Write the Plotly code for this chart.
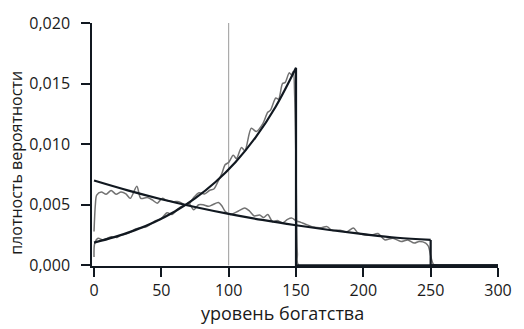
import plotly.graph_objects as go

# Smooth densities: decreasing on [0, 250], increasing on [0, 150]
dec_x = [0, 25, 50, 75, 100, 125, 150, 175, 200, 225, 250]
dec_y = [0.0070, 0.00619, 0.00546, 0.00482, 0.00425, 0.00375, 0.00331,
         0.00292, 0.00258, 0.00228, 0.0021]
dec_tail_x = [250, 250, 300]
dec_tail_y = [0.0021, 0.0, 0.0]

inc_x = [0, 15, 30, 45, 60, 75, 90, 105, 120, 135, 150]
inc_y = [0.00188, 0.00233, 0.00289, 0.00359, 0.00445, 0.00553, 0.00686,
         0.00851, 0.01057, 0.01311, 0.0163]
inc_tail_x = [150, 150, 300]
inc_tail_y = [0.0163, 0.0, 0.0]

# Simulated (noisy) estimates of the same two densities
sim_dec_x = [0, 1, 2, 5.4, 9, 12.7, 16.4, 20, 23.7, 26.9, 31.8, 34.7, 39.6,
             43.3, 47, 50.6, 54.3, 59.2, 62.9, 67.8, 70.4, 74, 77.7, 81, 85,
             88, 92.4, 95, 97.3, 101, 107, 112, 115.6, 119, 123, 126, 129,
             132.7, 136, 140, 143.7, 147, 150, 153.5, 157, 163, 168, 173,
             176.7, 182.6, 187.7, 192.6, 196, 201, 206, 210.9, 215.8, 222,
             228, 233, 237.8, 241.4, 246.3, 248.3, 250, 252, 255, 300]
sim_dec_y = [0.0028, 0.0050, 0.0058, 0.00605, 0.00587, 0.00618, 0.00587,
             0.00605, 0.0059, 0.00553, 0.00653, 0.00553, 0.0056, 0.0054,
             0.00513, 0.00553, 0.00535, 0.00526, 0.00526, 0.0050, 0.00513,
             0.0046, 0.0050, 0.0050, 0.00487, 0.0050, 0.00519, 0.0049,
             0.00447, 0.00421, 0.00447, 0.00474, 0.00447, 0.00408, 0.00415,
             0.00395, 0.0042, 0.0036, 0.0037, 0.0035, 0.0038, 0.0039,
             0.00368, 0.00355, 0.0034, 0.00316, 0.0031, 0.0032, 0.0029,
             0.0029, 0.00276, 0.00308, 0.00268, 0.0025, 0.0025, 0.00263,
             0.00211, 0.00224, 0.00197, 0.0021, 0.00184, 0.00197, 0.00184,
             0.00158, 0.0008, 0.0001, 0.0, 0.0]

sim_inc_x = [0, 0.5, 3, 6.6, 9, 12.7, 17, 20, 24, 27.4, 31, 35, 38.4, 42,
             45.7, 49.4, 54.3, 58, 61.6, 66.4, 70, 74, 78, 82, 86, 89, 92.4,
             95, 97.3, 100, 103.4, 105.8, 109.5, 112, 116.8, 120.5, 125.4,
             129, 131, 135, 137, 140, 142, 145, 146.6, 148, 149, 150, 151,
             152, 300]
sim_inc_y = [0.0007, 0.0018, 0.00224, 0.0021, 0.0022, 0.00237, 0.0023,
             0.0025, 0.0026, 0.00276, 0.0030, 0.0031, 0.00316, 0.0034,
             0.00368, 0.0038, 0.00434, 0.0042, 0.0046, 0.00495, 0.0050,
             0.0056, 0.0060, 0.0059, 0.0062, 0.0063, 0.0070, 0.0076, 0.0083,
             0.0085, 0.00908, 0.00882, 0.00973, 0.00947, 0.01131, 0.01105,
             0.0117, 0.01263, 0.0128, 0.01381, 0.0137, 0.0150, 0.0151,
             0.0159, 0.0157, 0.0160, 0.0140, 0.0083, 0.0010, 0.0, 0.0]

mean_x = 100
x_ticks = [0, 50, 100, 150, 200, 250, 300]
y_ticks = [0.0, 0.005, 0.010, 0.015, 0.020]
y_tick_text = ["0,000", "0,005", "0,010", "0,015", "0,020"]

DARK = "#111820"
GREY = "#727272"
FONT = "Open Sans"

fig = go.Figure()

fig.add_trace(go.Scatter(x=[mean_x, mean_x], y=[0, 0.020], mode="lines",
                         line=dict(color="#9a9a9a", width=1)))

for sx, sy in ((sim_dec_x, sim_dec_y), (sim_inc_x, sim_inc_y)):
    fig.add_trace(go.Scatter(x=sx, y=sy, mode="lines",
                             line=dict(color=GREY, width=1.5, shape="spline",
                                       smoothing=0.8)))

for cx, cy in ((dec_x, dec_y), (inc_x, inc_y)):
    fig.add_trace(go.Scatter(x=cx, y=cy, mode="lines",
                             line=dict(color=DARK, width=2.2, shape="spline")))
for tx, ty in ((dec_tail_x, dec_tail_y), (inc_tail_x, inc_tail_y)):
    fig.add_trace(go.Scatter(x=tx, y=ty, mode="lines",
                             line=dict(color=DARK, width=2.2)))

axis_common = dict(showgrid=False, zeroline=False, showline=True,
                   linecolor=DARK, linewidth=1.5, ticks="outside",
                   tickcolor=DARK, tickwidth=1.5, ticklen=9,
                   tickfont=dict(family=FONT, size=16, color="#1a1a1a"))

fig.update_layout(
    width=524, height=329,
    margin=dict(l=92, r=21, t=12, b=63),
    paper_bgcolor="white", plot_bgcolor="white",
    showlegend=False,
    xaxis=dict(range=[-1.5, 300], tickvals=x_ticks, **axis_common),
    yaxis=dict(range=[-0.00005, 0.020], tickvals=y_ticks,
               ticktext=y_tick_text, ticklabelstandoff=8, **axis_common),
    annotations=[
        dict(text="уровень богатства", xref="paper", yref="paper",
             x=0.47, y=-0.193, showarrow=False, xanchor="center",
             yanchor="middle", font=dict(family=FONT, size=18, color="#1a1a1a")),
        dict(text="плотность вероятности", xref="paper", yref="paper",
             x=-0.187, y=0.425, showarrow=False, textangle=-90,
             xanchor="center", yanchor="middle",
             font=dict(family=FONT, size=16, color="#1a1a1a")),
    ],
)

fig.write_html("out.html")
